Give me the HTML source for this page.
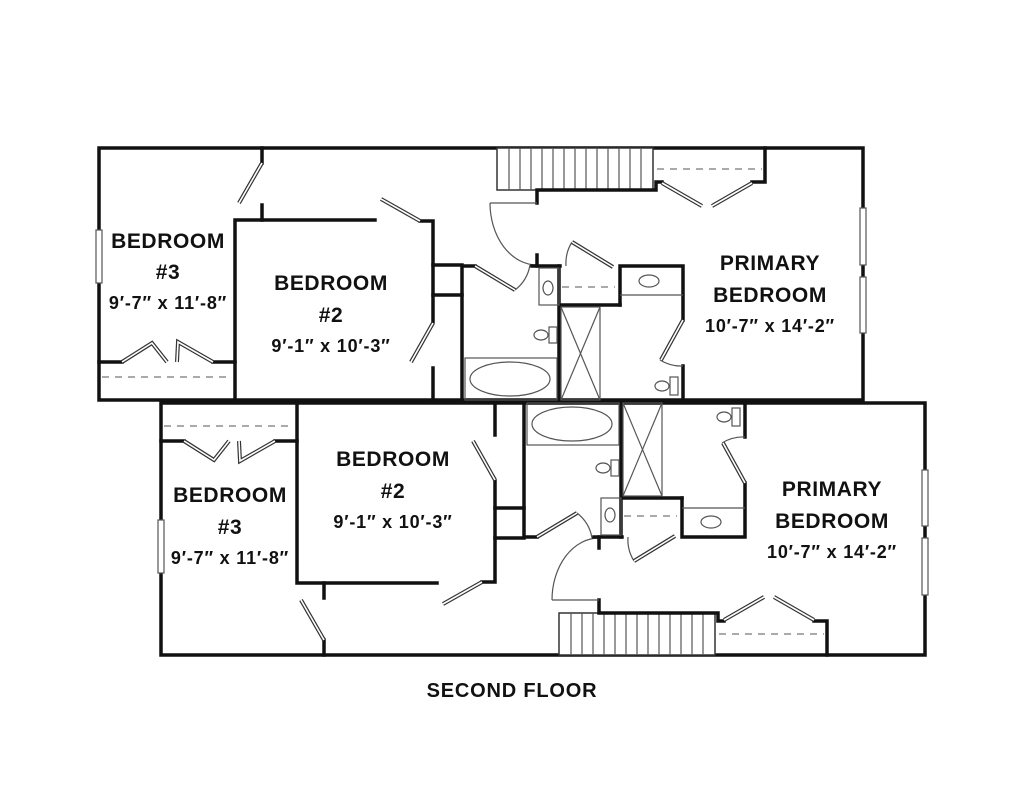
<!DOCTYPE html>
<html><head><meta charset="utf-8"><style>
html,body{margin:0;padding:0;background:#fff;}
svg{display:block;}
text{font-family:"Liberation Sans",sans-serif;font-weight:bold;fill:#111;text-anchor:middle;}
.w{stroke:#111;stroke-width:3.5;fill:none;stroke-linecap:square;}
.t{stroke:#555;stroke-width:1.2;fill:none;}
.d{stroke:#777;stroke-width:1.3;fill:none;stroke-dasharray:7,6;}
.door{stroke:#333;stroke-width:4;fill:none;}
.doori{stroke:#fff;stroke-width:1.6;fill:none;}
</style></head><body>
<svg width="1024" height="791" viewBox="0 0 1024 791" xmlns="http://www.w3.org/2000/svg">
<defs>
<g id="unit">
  <rect x="99" y="148" width="764" height="252" class="w"/>
  <rect x="96" y="230" width="6" height="53" fill="#fff" stroke="#555" stroke-width="1.2"/>
  <rect x="860" y="208" width="6" height="57" fill="#fff" stroke="#555" stroke-width="1.2"/>
  <rect x="860" y="277" width="6" height="56" fill="#fff" stroke="#555" stroke-width="1.2"/>
  <polyline points="262,148 262,163" class="w"/>
  <polyline points="262,205 262,220" class="w"/>
  <polyline points="235,400 235,220 375,220" class="w"/>
  <polyline points="420,221 433,221 433,322" class="w"/>
  <polyline points="433,368 433,400" class="w"/>
  <line x1="99" y1="362" x2="122" y2="362" class="w"/>
  <line x1="213" y1="362" x2="235" y2="362" class="w"/>
  <line x1="102" y1="377" x2="230" y2="377" class="d"/>
  <polyline points="433,265 462,265 462,400" class="w"/>
  <line x1="433" y1="295" x2="462" y2="295" class="w"/>
  <rect x="497" y="148" width="156" height="42" fill="#fff" stroke="#333" stroke-width="1.5"/>
  <g class="t">
    <line x1="509" y1="148" x2="509" y2="190"/><line x1="520" y1="148" x2="520" y2="190"/>
    <line x1="531" y1="148" x2="531" y2="190"/><line x1="542" y1="148" x2="542" y2="190"/>
    <line x1="553" y1="148" x2="553" y2="190"/><line x1="564" y1="148" x2="564" y2="190"/>
    <line x1="575" y1="148" x2="575" y2="190"/><line x1="586" y1="148" x2="586" y2="190"/>
    <line x1="597" y1="148" x2="597" y2="190"/><line x1="608" y1="148" x2="608" y2="190"/>
    <line x1="619" y1="148" x2="619" y2="190"/><line x1="630" y1="148" x2="630" y2="190"/>
    <line x1="641" y1="148" x2="641" y2="190"/>
  </g>
  <polyline points="537,203 537,190 656,190 656,182 662,182" class="w"/>
  <line x1="490" y1="203" x2="537" y2="203" class="t"/>
  <path d="M490,203 A47,62 0 0 0 537,265" class="t"/>
  <line x1="537" y1="255" x2="537" y2="266" class="w"/>
  <polyline points="463,266 475,266" class="w"/>
  <path d="M515,290 A40,40 0 0 0 530,265" class="t"/>
  <line x1="532" y1="266" x2="560" y2="266" class="w"/>
  <path d="M572,242 A40,40 0 0 0 566,266" class="t"/>
  <polyline points="620,305 620,266 683,266 683,320" class="w"/>
  <line x1="683" y1="366" x2="683" y2="400" class="w"/>
  <path d="M660,360 A40,40 0 0 0 683,366" class="t"/>
  <line x1="560" y1="305" x2="620" y2="305" class="w"/>
  <line x1="562" y1="287" x2="615" y2="287" class="d"/>
  <line x1="559" y1="266" x2="559" y2="400" class="w"/>
  <rect x="539" y="268" width="20" height="37" class="t"/>
  <ellipse cx="548" cy="288" rx="5" ry="7" class="t"/>
  <rect x="561" y="307" width="39" height="93" class="t"/>
  <line x1="561" y1="307" x2="600" y2="400" class="t"/>
  <line x1="600" y1="307" x2="561" y2="400" class="t"/>
  <line x1="620" y1="295" x2="683" y2="295" class="t"/>
  <ellipse cx="649" cy="281" rx="10" ry="6" class="t"/>
  <ellipse cx="662" cy="386" rx="7" ry="5" class="t"/>
  <rect x="670" y="377" width="8" height="18" class="t"/>
  <ellipse cx="541" cy="335" rx="7" ry="5" class="t"/>
  <rect x="549" y="327" width="8" height="16" class="t"/>
  <rect x="465" y="358" width="92" height="42" class="t"/>
  <ellipse cx="510" cy="379" rx="40" ry="17" class="t"/>
  <polyline points="765,148 765,182 752,182" class="w"/>
  <line x1="657" y1="169" x2="762" y2="169" class="d"/>
  <g>
    <line x1="262" y1="163" x2="239" y2="203" class="door"/><line x1="262" y1="163" x2="239" y2="203" class="doori"/>
    <line x1="381" y1="199" x2="420" y2="221" class="door"/><line x1="381" y1="199" x2="420" y2="221" class="doori"/>
    <line x1="433" y1="323" x2="411" y2="362" class="door"/><line x1="433" y1="323" x2="411" y2="362" class="doori"/>
    <line x1="475" y1="266" x2="515" y2="290" class="door"/><line x1="475" y1="266" x2="515" y2="290" class="doori"/>
    <line x1="572" y1="242" x2="613" y2="267" class="door"/><line x1="572" y1="242" x2="613" y2="267" class="doori"/>
    <line x1="683" y1="320" x2="661" y2="360" class="door"/><line x1="683" y1="320" x2="661" y2="360" class="doori"/>
    <line x1="662" y1="183" x2="702" y2="206" class="door"/><line x1="662" y1="183" x2="702" y2="206" class="doori"/>
    <line x1="712" y1="206" x2="752" y2="183" class="door"/><line x1="712" y1="206" x2="752" y2="183" class="doori"/>
    <polyline points="122,362 152,343 167,362" class="door"/><polyline points="122,362 152,343 167,362" class="doori"/>
    <polyline points="177,362 178,342 213,362" class="door"/><polyline points="177,362 178,342 213,362" class="doori"/>
  </g>
</g>
</defs>
<use href="#unit"/>
<use href="#unit" transform="translate(62,803) scale(1,-1)"/>

<g font-size="21" letter-spacing="0.6">
<text x="168" y="248">BEDROOM</text><text x="168" y="279">#3</text>
<text x="331" y="290">BEDROOM</text><text x="331" y="322">#2</text>
<text x="770" y="270">PRIMARY</text><text x="770" y="302">BEDROOM</text>
<text x="230" y="502">BEDROOM</text><text x="230" y="534">#3</text>
<text x="393" y="466">BEDROOM</text><text x="393" y="498">#2</text>
<text x="832" y="496">PRIMARY</text><text x="832" y="528">BEDROOM</text>
</g>
<g font-size="18" letter-spacing="0.8">
<text x="168" y="309">9′-7″ x 11′-8″</text>
<text x="331" y="352">9′-1″ x 10′-3″</text>
<text x="770" y="332">10′-7″ x 14′-2″</text>
<text x="230" y="564">9′-7″ x 11′-8″</text>
<text x="393" y="528">9′-1″ x 10′-3″</text>
<text x="832" y="558">10′-7″ x 14′-2″</text>
</g>
<text x="512" y="697" font-size="20" letter-spacing="0.8">SECOND FLOOR</text>
</svg>
</body></html>
